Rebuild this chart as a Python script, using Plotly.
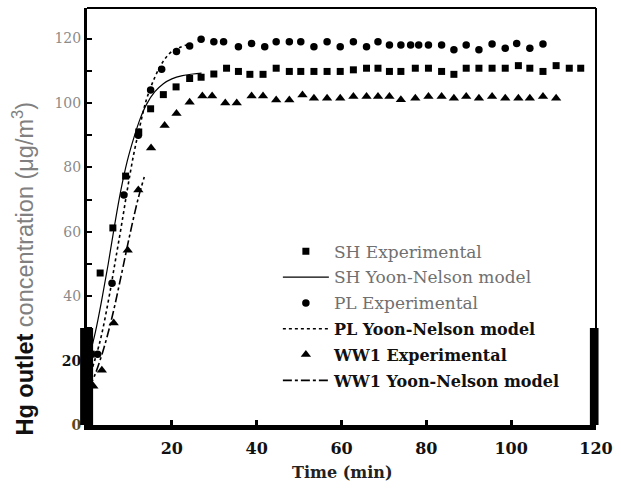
import plotly.graph_objects as go

# ---- data ----
sh_t = [1.0, 3.1, 6.1, 9.1, 12.2, 15.0, 18.0, 21.0, 24.2, 26.9, 29.9, 32.9, 35.7, 38.4, 41.5,
        44.6, 47.7, 50.4, 53.5, 56.6, 59.7, 62.8, 65.9, 68.6, 71.3, 74.0, 77.4, 80.5, 83.6, 86.5,
        89.4, 92.4, 95.5, 98.6, 101.7, 104.4, 107.5, 110.6, 113.7, 116.4]
sh_v = [22, 47.2, 61.2, 77.3, 91, 98.2, 102.6, 105, 107.6, 108, 109, 110.8, 109.8, 108.9, 108.9,
        110.8, 109.8, 109.8, 109.8, 109.8, 109.8, 110.3, 110.8, 110.8, 109.8, 109.8, 110.8, 110.8,
        109.8, 108.9, 110.8, 110.8, 110.8, 110.8, 111.6, 110.8, 109.8, 111.6, 110.8, 110.8]

pl_t = [0.5, 2.5, 5.9, 8.7, 12.1, 15.0, 17.6, 21.1, 24.2, 26.9, 29.9, 32.2, 35.7, 38.8, 41.9,
        44.6, 47.7, 50.4, 53.5, 56.6, 59.7, 62.8, 65.9, 68.6, 71.3, 74.0, 76.3, 78.2, 80.5, 83.6,
        86.5, 89.4, 92.4, 95.5, 98.6, 101.3, 104.4, 107.5]
pl_v = [10, 22, 44, 71.4, 90, 104, 110.5, 116, 117.7, 119.8, 119, 119, 117.5, 118.5, 117.5,
        119, 119, 119, 117.5, 119, 117.5, 119, 117.5, 119, 118, 118, 118, 118, 118, 118,
        116.5, 118, 116.5, 118.3, 117, 118.5, 117, 118.3]

ww_t = [1.5, 3.5, 6.3, 9.6, 12.1, 15.1, 18.3, 21.1, 24.2, 27.2, 29.5, 32.6, 35.3, 38.8, 41.5,
        44.6, 47.7, 50.8, 53.5, 56.6, 59.7, 62.8, 65.9, 68.6, 71.3, 74.0, 77.4, 80.5, 83.6, 86.5,
        89.4, 92.4, 95.5, 98.6, 101.7, 104.4, 107.5, 110.6]
ww_v = [12, 17, 31.7, 54.3, 73, 86, 93, 96.7, 100.2, 102.2, 102.2, 100, 100, 102.2, 102.2,
        100.9, 100.9, 102.5, 101.5, 101.5, 101.5, 102, 102, 102, 102, 101, 101.5, 102, 102, 101.5,
        102, 101.5, 102, 101.5, 101.5, 101.5, 102, 101.5]

sh_mt = [0.5, 2, 3.5, 5, 6.5, 8, 9.5, 11, 12.5, 14, 16, 18, 20, 22.5, 25, 27]
sh_mv = [21, 29, 39, 50, 62, 73, 82, 89, 95, 99.5, 103.5, 106, 107.5, 108.5, 109, 109.3]

pl_mt = [0.5, 3, 5, 6.5, 8, 9.5, 11, 12.5, 14, 16, 18, 20, 22, 24.5]
pl_mv = [14.5, 25.6, 38.3, 49.6, 61, 73, 84, 93, 101, 108, 113, 116, 117.3, 118.5]

ww_mt = [0.5, 2, 4, 6, 8, 10, 12, 13.5]
ww_mv = [11.5, 16, 24, 34, 46, 58.5, 70, 77]

y_ticks = [0, 20, 40, 60, 80, 100, 120]
y_ticktext = ["<b><span style='color:#5a4a1a'>0</span></b>", "<b><span style='color:#111'>20</span></b>",
              "40", "60", "80", "100", "120"]
x_ticks = [20, 40, 60, 80, 100, 120]
x_ticktext = ["<b>20</b>", "<b>40</b>", "<b>60</b>", "<b>80</b>", "<b>100</b>", "<b>120</b>"]

names = ["<span style='font-size:17px'>SH Experimental</span>",
         "<span style='font-size:17px'>SH Yoon-Nelson model</span>",
         "<span style='font-size:17px'>PL Experimental</span>",
         "<b><span style='color:#111'>PL Yoon-Nelson model</span></b>",
         "<b><span style='color:#111'>WW1 Experimental</span></b>",
         "<b><span style='color:#111'>WW1 Yoon-Nelson model</span></b>"]

fig = go.Figure()
fig.add_trace(go.Scatter(x=sh_t, y=sh_v, mode="markers", name=names[0], legendgroup="g1",
                         marker=dict(symbol="square", size=7, color="black")))
fig.add_trace(go.Scatter(x=sh_mt, y=sh_mv, mode="lines", name=names[1], legendgroup="g2",
                         line=dict(color="black", width=1.2, shape="spline")))
fig.add_trace(go.Scatter(x=pl_t, y=pl_v, mode="markers", name=names[2], legendgroup="g3",
                         marker=dict(symbol="circle", size=7.5, color="black")))
fig.add_trace(go.Scatter(x=pl_mt, y=pl_mv, mode="lines", name=names[3], legendgroup="g4",
                         line=dict(color="black", width=1.6, dash="dot", shape="spline")))
fig.add_trace(go.Scatter(x=ww_t, y=ww_v, mode="markers", name=names[4], legendgroup="g5",
                         marker=dict(symbol="triangle-up", size=9, color="black")))
fig.add_trace(go.Scatter(x=ww_mt, y=ww_mv, mode="lines", name=names[5], legendgroup="g6",
                         line=dict(color="black", width=1.6, dash="dashdot", shape="spline")))

serif = "DejaVu Serif"

fig.update_layout(
    width=621, height=491,
    margin=dict(l=87, r=17, t=8, b=66),
    paper_bgcolor="white", plot_bgcolor="white",
    showlegend=True,
    legend=dict(x=0.375, y=0.457, xanchor="left", yanchor="top",
                bgcolor="rgba(0,0,0,0)", borderwidth=0,
                font=dict(family=serif, size=16, color="#707070"),
                itemwidth=46, traceorder="grouped", tracegroupgap=2),
    xaxis=dict(range=[0, 120], showgrid=False, zeroline=False,
               showline=True, linecolor="black", linewidth=5,
               tickvals=x_ticks, ticktext=x_ticktext,
               ticks="inside", ticklen=5, tickwidth=3, tickcolor="black",
               ticklabelstandoff=5,
               tickfont=dict(family=serif, size=16, color="#111")),
    yaxis=dict(range=[0, 129.5], showgrid=False, zeroline=False,
               showline=True, linecolor="black", linewidth=3,
               tickvals=y_ticks, ticktext=y_ticktext,
               ticks="inside", ticklen=5, tickwidth=2, tickcolor="black",
               minor=dict(tickvals=[10, 30, 50, 70, 90, 110], ticks="inside", ticklen=5,
                          tickwidth=2, tickcolor="black"),
               tickfont=dict(family=serif, size=14, color="#8a8a8a")),
    shapes=[
        dict(type="line", xref="paper", yref="paper", x0=0, x1=1, y0=1, y1=1,
             line=dict(color="black", width=2)),
        dict(type="line", xref="paper", yref="paper", x0=1, x1=1, y0=0, y1=1,
             line=dict(color="black", width=2)),
        dict(type="rect", xref="paper", yref="paper", x0=-0.0135, x1=0.012, y0=0, y1=0.2326,
             fillcolor="black", line=dict(width=0)),
        dict(type="rect", xref="paper", yref="paper", x0=0.988, x1=1.005, y0=0, y1=0.2326,
             fillcolor="black", line=dict(width=0)),
    ],
    annotations=[
        dict(text="<b><span style='color:#111'>Hg outlet</span></b> concentration (μg/m<sup>3</sup>)",
             xref="paper", yref="paper", x=-0.126, y=0.375, xanchor="center", yanchor="middle",
             textangle=-90, showarrow=False,
             font=dict(family="Liberation Sans", size=23.5, color="#808080")),
        dict(text="<b>Time (min)</b>", xref="paper", yref="paper", x=0.5, y=-0.115,
             xanchor="center", yanchor="middle", showarrow=False,
             font=dict(family=serif, size=16, color="#222")),
    ],
)

fig.write_html("out.html")
